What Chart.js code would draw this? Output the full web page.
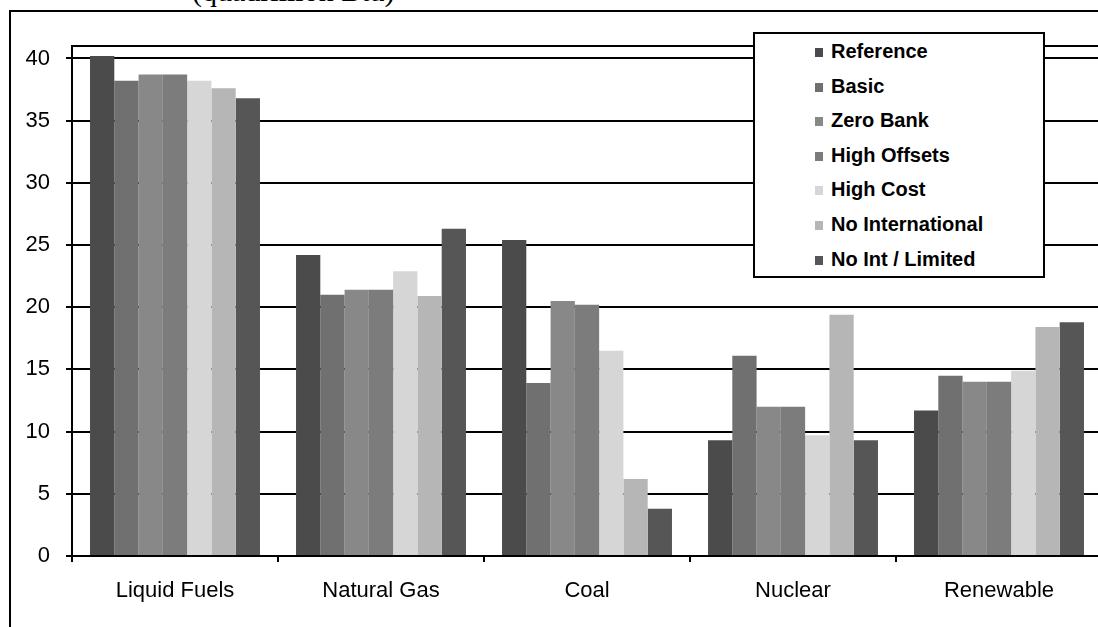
<!DOCTYPE html>
<html>
<head>
<meta charset="utf-8">
<script src="https://cdn.jsdelivr.net/npm/chart.js@4.4.1/dist/chart.umd.min.js"></script>
<style>
  body { margin: 0; overflow: hidden; background: #fff; font-family: "Liberation Sans", Arial, sans-serif; }
  #frame { position: absolute; left: 9px; top: 10px; width: 1200px; height: 700px; border: 2px solid #000; }
  #unit { position: absolute; left: 192px; top: -24px; font-family: "Liberation Serif", "Times New Roman", serif; font-size: 30px; line-height: 30px; color: #000; }
  #wrap { position: absolute; left: 0; top: 0; width: 1110px; height: 627px; }
  #legend { position: absolute; left: 753px; top: 32px; width: 288px; height: 242px; border: 2px solid #000; background: #fff; }
  .item { position: absolute; left: 60px; height: 34.6px; line-height: 34.6px; font-size: 20px; font-weight: bold; white-space: nowrap; color: #000; }
  .box { display: inline-block; width: 8px; height: 9px; margin-right: 8px; vertical-align: 1px; }
</style>
</head>
<body>
<div id="frame"></div>
<div id="unit">(quadrillion Btu)</div>
<div id="wrap"><canvas id="myChart"></canvas></div>
<div id="legend"></div>
<script>
const ctx = document.getElementById("myChart");

// values (quadrillion Btu)
const labels = ["Liquid Fuels", "Natural Gas", "Coal", "Nuclear", "Renewable"];
const reference = [40.2, 24.2, 25.4, 9.3, 11.7];
const basic = [38.2, 21.0, 13.9, 16.1, 14.5];
const zeroBank = [38.7, 21.4, 20.5, 12.0, 14.0];
const highOffsets = [38.7, 21.4, 20.2, 12.0, 14.0];
const highCost = [38.2, 22.9, 16.5, 9.7, 14.9];
const noInternational = [37.6, 20.9, 6.2, 19.4, 18.4];
const noIntLimited = [36.8, 26.3, 3.8, 9.3, 18.8];
const yTicks = [0, 5, 10, 15, 20, 25, 30, 35, 40];

const seriesNames = ["Reference", "Basic", "Zero Bank", "High Offsets", "High Cost", "No International", "No Int / Limited"];
const seriesValues = [reference, basic, zeroBank, highOffsets, highCost, noInternational, noIntLimited];
const seriesColors = ["#4b4b4b", "#707070", "#888888", "#7c7c7c", "#d6d6d6", "#b6b6b6", "#565656"];

const fontFamily = "'Liberation Sans', Arial, sans-serif";

var datasets = [];
seriesNames.forEach((name, i) => {
  datasets.push({
    label: name,
    data: seriesValues[i],
    backgroundColor: seriesColors[i],
    borderWidth: 0,
    barPercentage: 1.0,
    categoryPercentage: 0.825
  });
});

// top border of the plot area
const plotBorder = {
  id: "plotBorder",
  afterDraw(chart) {
    const a = chart.chartArea;
    const c = chart.ctx;
    c.save();
    c.strokeStyle = "#000";
    c.lineWidth = 2;
    c.beginPath();
    c.moveTo(a.left, a.top);
    c.lineTo(a.right + 20, a.top);
    c.stroke();
    c.restore();
  }
};

const chart = new Chart(ctx, {
  type: "bar",
  data: { labels: labels, datasets: datasets },
  plugins: [plotBorder],
  options: {
    responsive: true,
    maintainAspectRatio: false,
    animation: false,
    layout: { padding: { left: 0, top: 46, right: 8, bottom: 0 } },
    plugins: {
      legend: { display: false },
      tooltip: { enabled: false }
    },
    scales: {
      x: {
        afterFit: (s) => { s.height = 71; },
        grid: { display: true, drawOnChartArea: false, color: "#000", lineWidth: 2, tickLength: 6 },
        border: { display: true, color: "#000", width: 2 },
        ticks: { color: "#000", padding: 16, maxRotation: 0, font: { family: fontFamily, size: 22 } }
      },
      y: {
        min: 0,
        max: 41,
        afterFit: (s) => { s.width = 72; },
        afterBuildTicks: (s) => { s.ticks = yTicks.map(v => ({ value: v })); },
        grid: { color: "#000", lineWidth: 2, tickLength: 6 },
        border: { display: true, color: "#000", width: 2 },
        ticks: { color: "#000", padding: 16, font: { family: fontFamily, size: 22 } }
      }
    }
  }
});

// legend box drawn over the plot, built from the datasets
const legendBox = document.getElementById("legend");
chart.data.datasets.forEach((d, i) => {
  const item = document.createElement("div");
  item.className = "item";
  item.style.top = (i * 34.6) + "px";
  item.innerHTML = "<span class='box' style='background:" + d.backgroundColor + "'></span>" + d.label;
  legendBox.appendChild(item);
});
</script>
</body>
</html>
